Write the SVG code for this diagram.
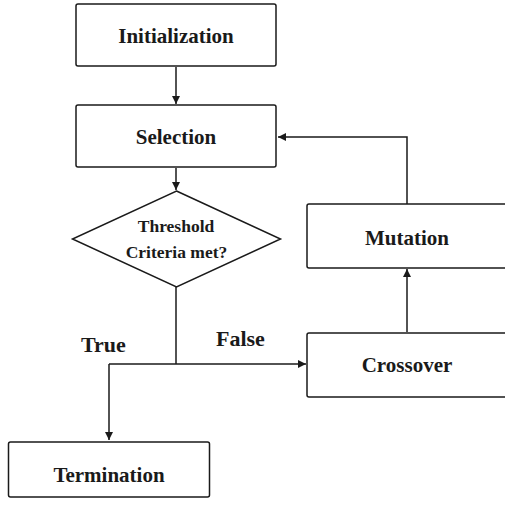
<svg xmlns="http://www.w3.org/2000/svg" width="505" height="507" viewBox="0 0 505 507">
<defs>
<marker id="arr" viewBox="0 0 10 10" refX="10" refY="5" markerWidth="8" markerHeight="8" markerUnits="userSpaceOnUse" orient="auto">
<path d="M0,0 L10,5 L0,10 Z" fill="#1a1a1a"/>
</marker>
</defs>
<style>
.box{fill:#fff;stroke:#1a1a1a;stroke-width:1.5}
.t{font-family:"Liberation Serif","Times New Roman",serif;font-weight:bold;font-size:21px;fill:#1a1a1a;text-anchor:middle}
.s{font-size:17.5px}
.lbl{font-size:22px;text-anchor:start}
.c{fill:none;stroke:#1a1a1a;stroke-width:1.5}
</style>
<rect width="505" height="507" fill="#fff"/>
<g id="connectors">
<path class="c" d="M176,67 V104" marker-end="url(#arr)"/>
<path class="c" d="M176,168 V190" marker-end="url(#arr)"/>
<path class="c" d="M176,287 V364"/>
<path class="c" d="M109,364 H306" marker-end="url(#arr)"/>
<path class="c" d="M109,364 V440" marker-end="url(#arr)"/>
<path class="c" d="M407,332 V269" marker-end="url(#arr)"/>
<path class="c" d="M407,204 V137 H278" marker-end="url(#arr)"/>
</g>
<g id="initialization">
<rect class="box" x="76" y="4" width="200" height="62" rx="2"/>
<text class="t" x="176" y="43">Initialization</text>
</g>
<g id="selection">
<rect class="box" x="76" y="105" width="200" height="62" rx="2"/>
<text class="t" x="176" y="144">Selection</text>
</g>
<g id="threshold">
<polygon class="box" points="176.5,191 280.5,239 176.5,287 72.5,239"/>
<text class="t s" x="176" y="231.5">Threshold</text>
<text class="t s" x="176.5" y="258">Criteria met?</text>
</g>
<g id="mutation">
<rect class="box" x="307" y="204" width="200" height="64" rx="2"/>
<text class="t" x="407" y="244.5">Mutation</text>
</g>
<g id="crossover">
<rect class="box" x="307" y="333" width="200" height="64" rx="2"/>
<text class="t" x="407" y="372">Crossover</text>
</g>
<g id="termination">
<rect class="box" x="8.5" y="442" width="201" height="55" rx="2"/>
<text class="t" x="109" y="481.5">Termination</text>
</g>
<g id="labels">
<text class="t lbl" x="81" y="351.5">True</text>
<text class="t lbl" x="216" y="346">False</text>
</g>
</svg>
